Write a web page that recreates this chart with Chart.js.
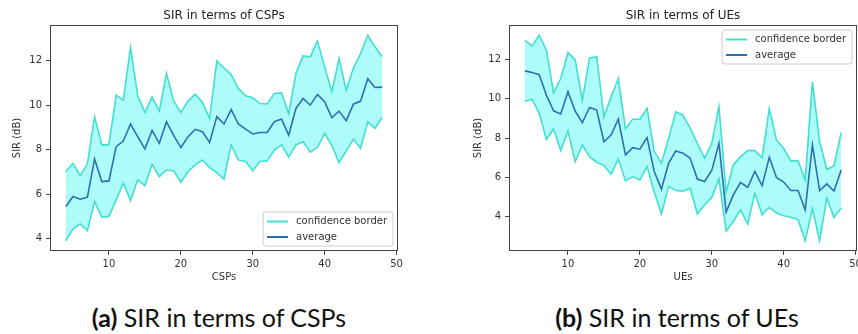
<!DOCTYPE html>
<html>
<head>
<meta charset="utf-8">
<script src="https://cdn.jsdelivr.net/npm/chart.js@4/dist/chart.umd.min.js"></script>
<style>
  html, body { margin: 0; padding: 0; background: #fff; overflow: hidden; width: 858px; height: 334px; }
  #wrap { position: relative; width: 858px; height: 334px; overflow: hidden; }
  .panel { position: absolute; top: 0; width: 430px; height: 290px; }
  .caption { position: absolute; top: 305px; font-family: Lato, "Open Sans", sans-serif; font-size: 25px;
             line-height: 25px; color: #111; white-space: nowrap; transform: translateX(-50%); }
</style>
</head>
<body>
<div id="wrap">
  <div class="panel" style="left:0"><canvas id="cspChart" width="430" height="290"></canvas></div>
  <div class="panel" style="left:460px"><canvas id="ueChart" width="430" height="290"></canvas></div>
  <div class="caption" style="left:219px"><b>(a)</b> SIR in terms of CSPs</div>
  <div class="caption" style="left:677px"><b>(b)</b> SIR in terms of UEs</div>
</div>
<script>
// ---- data: SIR (dB) vs number of CSPs ----
const cspCounts = [4,5,6,7,8,9,10,11,12,13,14,15,16,17,18,19,20,21,22,23,24,25,26,27,28,29,30,31,32,33,34,35,36,37,38,39,40,41,42,43,44,45,46,47,48];
const cspUpper = [7.02,7.39,6.84,7.37,9.49,8.22,8.22,10.46,10.23,12.60,10.43,9.68,10.38,9.74,11.43,10.20,9.68,10.19,10.50,10.13,9.41,12.00,11.68,11.38,10.76,10.43,10.34,10.08,10.06,10.53,10.56,9.62,11.43,12.22,12.18,12.89,11.73,10.61,12.10,10.68,11.68,12.33,13.15,12.63,12.18];
const cspAverage = [5.45,5.90,5.78,5.87,7.59,6.57,6.60,8.14,8.39,9.16,8.59,8.04,8.87,8.29,9.26,8.65,8.10,8.59,8.92,8.81,8.33,9.49,9.16,9.81,9.16,8.93,8.71,8.78,8.78,9.26,9.38,8.66,9.86,10.31,10.01,10.49,10.16,9.44,9.74,9.31,10.05,10.19,11.20,10.80,10.82];
const cspLower = [3.91,4.45,4.67,4.36,5.67,4.97,5.00,5.75,6.50,5.72,6.65,6.39,7.35,6.79,7.09,7.05,6.54,7.02,7.32,7.54,7.20,6.97,6.68,8.22,7.54,7.47,7.06,7.47,7.50,7.99,8.22,7.67,8.22,8.36,7.89,8.10,8.74,8.19,7.42,7.95,8.47,8.07,9.26,8.96,9.46];

// ---- data: SIR (dB) vs number of UEs ----
const ueCounts = [4,5,6,7,8,9,10,11,12,13,14,15,16,17,18,19,20,21,22,23,24,25,26,27,28,29,30,31,32,33,34,35,36,37,38,39,40,41,42,43,44,45,46,47,48];
const ueUpper = [12.96,12.68,13.22,12.46,10.30,11.02,12.34,11.98,9.92,12.07,12.12,9.08,10.09,11.02,8.46,8.95,8.95,9.50,7.31,6.72,7.98,9.33,9.16,8.49,7.73,6.97,7.73,9.59,5.25,6.63,7.05,7.36,7.36,7.00,9.50,7.90,7.48,6.84,6.85,5.87,10.85,7.81,6.41,6.58,8.29];
const ueAverage = [11.41,11.33,11.22,10.18,9.38,9.22,10.35,9.37,8.78,9.55,9.42,7.81,8.15,8.96,7.14,7.51,7.43,8.02,6.30,5.40,6.72,7.34,7.23,6.97,5.91,5.79,6.35,7.73,4.24,5.11,5.74,5.49,6.30,5.57,7.02,5.99,5.76,5.33,5.33,4.35,7.65,5.33,5.67,5.30,6.38];
const ueLower = [9.87,9.97,9.25,7.93,8.46,7.36,8.37,6.80,7.65,7.05,6.77,6.60,6.16,6.94,5.82,6.04,5.87,6.55,5.25,4.14,5.54,5.33,5.30,5.45,4.14,4.61,4.98,5.92,3.26,3.76,4.35,3.63,5.20,4.10,4.47,4.19,4.05,3.97,3.85,2.78,4.41,2.78,4.95,3.97,4.44];

// ---- tick labels ----
const xTickValues = [10, 20, 30, 40, 50];
const yTickValues = [4, 6, 8, 10, 12];

const BORDER_COLOR = '#40e0d0';
const AVERAGE_COLOR = '#2c6fb2';
const BAND_COLOR = '#aefcfa';
const FRAME_COLOR = '#444';
const TEXT_COLOR = '#333';
const FONT = 'DejaVu Sans';

function toPoints(xs, ys) { return xs.map((x, i) => ({ x: x, y: ys[i] })); }

// axis limits with a 5% margin around the data, like the usual auto-scaling
function paddedRange(values) {
  const lo = Math.min(...values), hi = Math.max(...values);
  const m = (hi - lo) * 0.05;
  return [lo - m, hi + m];
}

// plot frame on all four sides
const framePlugin = {
  id: 'frame',
  afterDatasetsDraw(chart) {
    const a = chart.chartArea, ctx = chart.ctx;
    ctx.save();
    ctx.strokeStyle = FRAME_COLOR;
    ctx.lineWidth = 1;
    ctx.strokeRect(Math.round(a.left) + 0.5, Math.round(a.top) + 0.5,
                   Math.round(a.right - a.left) - 1, Math.round(a.bottom - a.top) - 1);
    ctx.restore();
  }
};

// title centred over the plot area
const titlePlugin = {
  id: 'axTitle',
  afterDraw(chart, args, opts) {
    const a = chart.chartArea, ctx = chart.ctx;
    ctx.save();
    ctx.font = '12px "' + FONT + '"';
    ctx.fillStyle = '#222';
    ctx.textAlign = 'center';
    ctx.textBaseline = 'alphabetic';
    ctx.fillText(opts.text, (a.left + a.right) / 2, 19);
    ctx.restore();
  }
};

// legend box inside the plot area
const boxLegendPlugin = {
  id: 'boxLegend',
  afterDraw(chart, args, opts) {
    const a = chart.chartArea, ctx = chart.ctx;
    const entries = [];
    chart.data.datasets.forEach(ds => {
      if (!entries.find(e => e.label === ds.label)) entries.push({ label: ds.label, color: ds.borderColor });
    });
    ctx.save();
    ctx.font = '10px "' + FONT + '"';
    const textW = Math.max(...entries.map(e => ctx.measureText(e.label).width));
    const w = 4 + 21 + 8 + textW + 6;
    const h = 34;
    const x = a.right - 5 - w;
    const y = opts.corner === 'top' ? a.top + 5 : a.bottom - 5 - h;
    const r = 3;
    ctx.beginPath();
    ctx.moveTo(x + r, y);
    ctx.arcTo(x + w, y, x + w, y + h, r);
    ctx.arcTo(x + w, y + h, x, y + h, r);
    ctx.arcTo(x, y + h, x, y, r);
    ctx.arcTo(x, y, x + w, y, r);
    ctx.closePath();
    ctx.fillStyle = 'rgba(255,255,255,0.8)';
    ctx.fill();
    ctx.strokeStyle = '#cccccc';
    ctx.lineWidth = 1;
    ctx.stroke();
    entries.forEach((e, i) => {
      const ry = y + 9.5 + i * 15.5;
      ctx.beginPath();
      ctx.moveTo(x + 4, ry);
      ctx.lineTo(x + 25, ry);
      ctx.strokeStyle = e.color;
      ctx.lineWidth = 2;
      ctx.stroke();
      ctx.fillStyle = TEXT_COLOR;
      ctx.textAlign = 'left';
      ctx.textBaseline = 'middle';
      ctx.fillText(e.label, x + 33, ry);
    });
    ctx.restore();
  }
};

function makeChart(canvasId, cfg) {
  const [yMin, yMax] = paddedRange(cfg.upper.concat(cfg.lower));
  const [xMin, xMax] = paddedRange(cfg.xs);
  const tickFont = { family: FONT, size: 10 };
  const gridOpts = { display: true, drawOnChartArea: false, drawTicks: true, tickLength: 4, tickColor: FRAME_COLOR };
  return new Chart(document.getElementById(canvasId), {
    type: 'line',
    data: {
      datasets: [
        { label: 'confidence border', data: toPoints(cfg.xs, cfg.upper), borderColor: BORDER_COLOR,
          backgroundColor: BAND_COLOR, fill: { target: 2 }, borderWidth: 1.6, pointRadius: 0, tension: 0 },
        { label: 'average', data: toPoints(cfg.xs, cfg.average), borderColor: AVERAGE_COLOR,
          fill: false, borderWidth: 1.6, pointRadius: 0, tension: 0 },
        { label: 'confidence border', data: toPoints(cfg.xs, cfg.lower), borderColor: BORDER_COLOR,
          fill: false, borderWidth: 1.6, pointRadius: 0, tension: 0 }
      ]
    },
    options: {
      responsive: false,
      animation: false,
      devicePixelRatio: 1,
      layout: { padding: { left: 0, right: cfg.rightPad, top: 25, bottom: 0 } },
      scales: {
        x: {
          type: 'linear', min: xMin, max: xMax,
          afterBuildTicks: s => { s.ticks = xTickValues.map(v => ({ value: v })); },
          afterFit: s => { s.height = 39; },
          ticks: { font: tickFont, color: TEXT_COLOR, padding: 3, maxRotation: 0 },
          grid: gridOpts,
          border: { display: false },
          title: { display: true, text: cfg.xLabel, font: tickFont, color: TEXT_COLOR, padding: { top: 0, bottom: 7 } }
        },
        y: {
          type: 'linear', min: yMin, max: yMax,
          afterBuildTicks: s => { s.ticks = yTickValues.map(v => ({ value: v })); },
          afterFit: s => { s.width = cfg.yWidth; },
          ticks: { font: tickFont, color: TEXT_COLOR, padding: 4 },
          grid: gridOpts,
          border: { display: false },
          title: { display: true, text: 'SIR (dB)', font: tickFont, color: TEXT_COLOR, padding: { top: cfg.yTitlePad, bottom: 0 } }
        }
      },
      plugins: {
        legend: { display: false },
        tooltip: { enabled: false },
        title: { display: false },
        filler: { drawTime: 'beforeDatasetsDraw' },
        axTitle: { text: cfg.title },
        boxLegend: { corner: cfg.legendCorner }
      }
    },
    plugins: [framePlugin, titlePlugin, boxLegendPlugin]
  });
}

makeChart('cspChart', {
  title: 'SIR in terms of CSPs', xLabel: 'CSPs',
  xs: cspCounts, upper: cspUpper, average: cspAverage, lower: cspLower,
  yWidth: 50, yTitlePad: 11, rightPad: 32, legendCorner: 'bottom'
});

makeChart('ueChart', {
  title: 'SIR in terms of UEs', xLabel: 'UEs',
  xs: ueCounts, upper: ueUpper, average: ueAverage, lower: ueLower,
  yWidth: 49, yTitlePad: 12, rightPad: 33, legendCorner: 'top'
});
</script>
</body>
</html>
